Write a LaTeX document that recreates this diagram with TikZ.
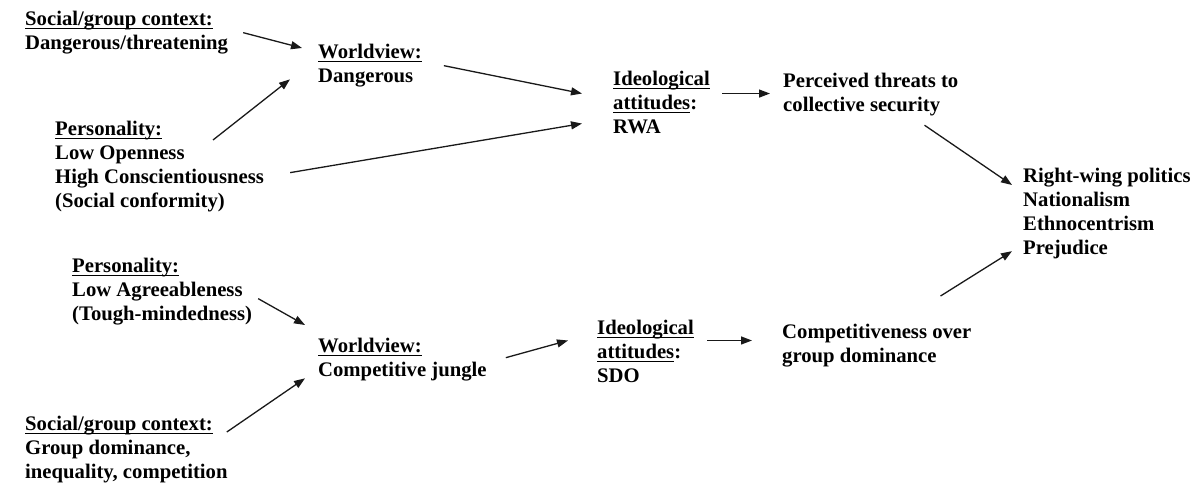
\documentclass[tikz,border=0pt]{standalone}
\usepackage{fontspec}
\setmainfont{Liberation Serif}
\usepackage{tikz}
\usetikzlibrary{arrows.meta}
\tikzset{box/.style={anchor=north west, inner sep=0pt, align=left,
    font=\fontsize{20.7}{24}\selectfont\bfseries, text=black}}
\tikzset{link/.style={-{Triangle[length=11pt, width=8pt]}, line width=1.3pt, draw=black!90}}
\newcommand{\ulhead}[1]{\setbox0=\hbox{#1}\rlap{\rule[-3.5pt]{\wd0}{1.5pt}}\box0}

\begin{document}
\begin{tikzpicture}[x=1pt, y=-1pt]
\useasboundingbox (0,0) rectangle (1196,482);

\begin{scope}[every node/.style={box}]
  \node (ctxa) at (25,11) {\ulhead{Social/group context:}\\Dangerous/threatening};
  \node (wva) at (318,44) {\ulhead{Worldview:}\\Dangerous};
  \node (persa) at (55,121) {\ulhead{Personality:}\\Low Openness\\High Conscientiousness\\(Social conformity)};
  \node (ideoa) at (613,71) {\ulhead{Ideological}\\\ulhead{attitudes}:\\RWA};
  \node (threat) at (783,73) {Perceived threats to\\collective security};
  \node (out) at (1023,168) {Right-wing politics\\Nationalism\\Ethnocentrism\\Prejudice};
  \node (persb) at (72,258) {\ulhead{Personality:}\\Low Agreeableness\\(Tough-mindedness)};
  \node (wvb) at (318,338) {\ulhead{Worldview:}\\Competitive jungle};
  \node (ideob) at (597,320) {\ulhead{Ideological}\\\ulhead{attitudes}:\\SDO};
  \node (comp) at (782,324) {Competitiveness over\\group dominance};
  \node (ctxb) at (25,416) {\ulhead{Social/group context:}\\Group dominance,\\inequality, competition};
\end{scope}

% horizontal links leave the attitude nodes here
\coordinate (rwaout) at ([shift={(12,-9)}]ideoa.east);
\coordinate (sdoout) at ([shift={(13,-11)}]ideob.east);

\begin{scope}[every edge/.style={link}]
\path ([shift={(15,0)}]ctxa.east) edge ([shift={(-16,4)}]wva.north west);
\path ([shift={(158,19)}]persa.north west) edge ([shift={(-28,-8)}]wva.south west);
\path ([shift={(22,0)}]wva.east) edge ([shift={(-31,-9)}]ideoa.west);
\path ([shift={(26,6)}]persa.east) edge ([shift={(-31,21)}]ideoa.west);
\path (rwaout) edge ([xshift=-13]threat.west |- rwaout);
\path ([shift={(-34,9)}]threat.south east) edge ([shift={(-11,17)}]out.north west);
\path ([shift={(6,7)}]persb.east) edge ([shift={(-13,-13)}]wvb.north west);
\path ([shift={(-1,16)}]ctxb.north east) edge ([shift={(-13,-3)}]wvb.south west);
\path ([shift={(19,-2)}]wvb.east) edge ([shift={(-29,-11)}]ideob.west);
\path (sdoout) edge ([xshift=-30]comp.west |- sdoout);
\path ([shift={(-31,-28)}]comp.north east) edge ([shift={(-11,-8)}]out.south west);
\end{scope}

\end{tikzpicture}
\end{document}
